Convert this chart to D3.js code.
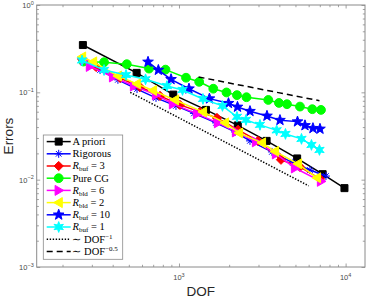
<!DOCTYPE html>
<html>
<head>
<meta charset="utf-8">
<script src="https://cdn.jsdelivr.net/npm/d3@7"></script>
<style>
body { margin: 0; background: #fff; }
svg { display: block; }
</style>
</head>
<body>
<div id="chart"></div>
<script>
// values (DOF, error)
var aprioriDof = [265, 557, 924, 1452, 2254, 3356, 5117, 7279, 9840];
var aprioriErr = [0.348, 0.167, 0.0942, 0.0629, 0.0418, 0.0278, 0.0175, 0.01156, 0.0080];

var rigorousDof = [262, 336, 430, 560, 728, 959, 1230, 1668, 2168, 2667, 3613, 4831, 6109, 7621];
var rigorousErr = [0.235, 0.180, 0.139, 0.109, 0.0863, 0.0699, 0.0574, 0.0447, 0.0352, 0.0278, 0.0208, 0.0156, 0.0129, 0.0110];

var rbuf3Dof = [262, 318, 443, 583, 769, 1014, 1336, 1690, 2261, 2979, 4093, 5321, 7016];
var rbuf3Err = [0.241, 0.195, 0.146, 0.115, 0.0910, 0.0718, 0.0597, 0.0509, 0.0372, 0.0278, 0.0169, 0.0140, 0.0102];

var pureCgDof = [267, 355, 486, 661, 830, 1102, 1322, 1606, 1928, 2228, 2541, 3435, 3981, 4446, 5321, 6310, 7113];
var pureCgErr = [0.225, 0.221, 0.210, 0.187, 0.182, 0.147, 0.132, 0.110, 0.0997, 0.0929, 0.0879, 0.0818, 0.0756, 0.0731, 0.0687, 0.0641, 0.0629];

var rbld6Dof = [269, 292, 402, 537, 728, 920, 1283, 1714, 2198, 2897, 3819, 4966, 7112];
var rbld6Err = [0.235, 0.198, 0.150, 0.118, 0.0934, 0.0737, 0.0566, 0.0447, 0.0352, 0.0271, 0.0197, 0.0136, 0.00957];

var rbld2Dof = [262, 305, 430, 560, 698, 946, 1393, 1888, 2291, 3148, 3767, 5176, 6730];
var rbld2Err = [0.254, 0.223, 0.154, 0.125, 0.105, 0.0818, 0.0597, 0.0447, 0.0343, 0.0264, 0.0211, 0.0152, 0.0105];

var rbuf10Dof = [652, 752, 896, 1148, 1523, 1982, 2244, 2667, 3373, 4036, 5142, 5702, 6368, 7016];
var rbuf10Err = [0.223, 0.180, 0.141, 0.110, 0.0847, 0.0750, 0.0680, 0.0608, 0.0537, 0.0480, 0.0462, 0.0418, 0.0388, 0.0381];

var rbuf1Dof = [262, 355, 481, 630, 847, 1050, 1393, 1824, 2228, 2524, 3062, 3855, 4355, 5433, 6237, 6966];
var rbuf1Err = [0.232, 0.180, 0.158, 0.141, 0.118, 0.1065, 0.0840, 0.0699, 0.0524, 0.0483, 0.0424, 0.0367, 0.0334, 0.0293, 0.0250, 0.0219];

// reference slopes
var dof1Dof = [510, 6000];
var dof1Err = [0.1, 0.0085];
var dofHalfDof = [1310, 6966];
var dofHalfErr = [0.150, 0.0802];

// ticks
var xMajorTicks = [1000, 10000];
var xMinorTicks = [200, 300, 400, 500, 600, 700, 800, 900, 2000, 3000, 4000, 5000, 6000, 7000, 8000, 9000];
var yMajorTicks = [0.001, 0.01, 0.1, 1];
var yMinorTicks = [];
[0.001, 0.01, 0.1].forEach(function (d) {
    for (var k = 2; k <= 9; k++) yMinorTicks.push(d * k);
});

// legend labels: [text, style] parts
var legendLabels = [
    [["A priori", ""]],
    [["Rigorous", ""]],
    [["R", "i"], ["buf", "sub"], [" = 3", ""]],
    [["Pure CG", ""]],
    [["R", "i"], ["bld", "sub"], [" = 6", ""]],
    [["R", "i"], ["bld", "sub"], [" = 2", ""]],
    [["R", "i"], ["buf", "sub"], [" = 10", ""]],
    [["R", "i"], ["buf", "sub"], [" = 1", ""]],
    [["\u223C DOF", ""], ["\u22121", "sup"]],
    [["\u223C DOF", ""], ["\u22120.5", "sup"]]
];

var svgWidth = 371;
var svgHeight = 300;
var margin = { top: 5, right: 6, bottom: 33, left: 36.7 };
var width = svgWidth - margin.left - margin.right;
var height = svgHeight - margin.top - margin.bottom;

var svg = d3.select("#chart")
    .append("svg")
    .attr("width", svgWidth)
    .attr("height", svgHeight);

var chartGroup = svg.append("g")
    .attr("transform", `translate(${margin.left}, ${margin.top})`);

var x = d3.scaleLog().domain([140, 13070]).range([0, width]);
var y = d3.scaleLog().domain([0.001, 1]).range([height, 0]);

function starPath(n, rOut, rIn) {
    var p = [];
    for (var i = 0; i < 2 * n; i++) {
        var r = i % 2 ? rIn : rOut;
        var a = Math.PI * i / n - Math.PI / 2;
        p.push([(r * Math.cos(a)).toFixed(2), (r * Math.sin(a)).toFixed(2)]);
    }
    return "M" + p.join("L") + "Z";
}

var markers = {
    square: "M-3.5,-3.5L3.5,-3.5L3.5,3.5L-3.5,3.5Z",
    asterisk: "M0,-4L0,4M-4,0L4,0M-2.8,-2.8L2.8,2.8M-2.8,2.8L2.8,-2.8",
    diamond: "M0,-4.6L4.6,0L0,4.6L-4.6,0Z",
    circle: d3.symbol().type(d3.symbolCircle).size(Math.PI * 4.4 * 4.4)(),
    right: "M5,0L-3.6,-5L-3.6,5Z",
    left: "M-5,0L3.6,-5L3.6,5Z",
    pentagram: starPath(5, 5.6, 2.3),
    hexagram: starPath(6, 5.4, 2.4)
};

var series = [
    { dof: aprioriDof, err: aprioriErr, color: "#000000", marker: "square" },
    { dof: rigorousDof, err: rigorousErr, color: "#0000ff", marker: "asterisk" },
    { dof: rbuf3Dof, err: rbuf3Err, color: "#ff0000", marker: "diamond" },
    { dof: pureCgDof, err: pureCgErr, color: "#00ff00", marker: "circle" },
    { dof: rbld6Dof, err: rbld6Err, color: "#ff00ff", marker: "right" },
    { dof: rbld2Dof, err: rbld2Err, color: "#ffff00", marker: "left" },
    { dof: rbuf10Dof, err: rbuf10Err, color: "#0000ff", marker: "pentagram" },
    { dof: rbuf1Dof, err: rbuf1Err, color: "#00ffff", marker: "hexagram" },
    { dof: dof1Dof, err: dof1Err, color: "#000000", dash: "1.4,1.6" },
    { dof: dofHalfDof, err: dofHalfErr, color: "#000000", dash: "6,4" }
];

var line = d3.line()
    .x(d => x(d[0]))
    .y(d => y(d[1]));

function drawMarker(sel, s) {
    var filled = s.marker !== "asterisk";
    sel.append("path")
        .attr("d", markers[s.marker])
        .attr("fill", filled ? s.color : "none")
        .attr("stroke", s.color)
        .attr("stroke-width", 1)
        .attr("stroke-linejoin", "round");
}

// lines and markers
series.forEach(function (s) {
    var pts = s.dof.map((d, i) => [d, s.err[i]]);
    chartGroup.append("path")
        .datum(pts)
        .attr("d", line)
        .attr("fill", "none")
        .attr("stroke", s.color)
        .attr("stroke-width", 1.5)
        .attr("stroke-dasharray", s.dash || null);

    if (s.marker) {
        chartGroup.selectAll(null)
            .data(pts)
            .enter()
            .append("g")
            .attr("transform", d => `translate(${x(d[0])}, ${y(d[1])})`)
            .each(function () { drawMarker(d3.select(this), s); });
    }
});

// axes box and inward ticks
var axisColor = "#8a8a8a";
function tickAxis(axisFn, scale, values, len, transform) {
    var g = chartGroup.append("g")
        .attr("transform", transform)
        .call(axisFn(scale).tickValues(values).tickSizeInner(-len).tickSizeOuter(0).tickFormat(""));
    g.select(".domain").remove();
    g.selectAll("line").attr("stroke", axisColor).attr("stroke-width", 0.8);
}
tickAxis(d3.axisBottom, x, xMajorTicks, 3.5, `translate(0, ${height})`);
tickAxis(d3.axisBottom, x, xMinorTicks, 2.2, `translate(0, ${height})`);
tickAxis(d3.axisTop, x, xMajorTicks, 3.5, "translate(0, 0)");
tickAxis(d3.axisTop, x, xMinorTicks, 2.2, "translate(0, 0)");
tickAxis(d3.axisLeft, y, yMajorTicks, 3.5, "translate(0, 0)");
tickAxis(d3.axisLeft, y, yMinorTicks, 2.2, "translate(0, 0)");
tickAxis(d3.axisRight, y, yMajorTicks, 3.5, `translate(${width}, 0)`);
tickAxis(d3.axisRight, y, yMinorTicks, 2.2, `translate(${width}, 0)`);

chartGroup.append("rect")
    .attr("width", width)
    .attr("height", height)
    .attr("fill", "none")
    .attr("stroke", axisColor)
    .attr("stroke-width", 1);

// tick labels
var tickFont = "'Liberation Sans', Arial, sans-serif";
function powerLabel(sel, v) {
    var e = Math.round(Math.log10(v));
    sel.append("tspan").text("10");
    sel.append("tspan")
        .attr("dy", -3.5)
        .attr("font-size", 5.5)
        .text(e < 0 ? "\u2212" + (-e) : e);
}

xMajorTicks.forEach(function (v) {
    var t = chartGroup.append("text")
        .attr("x", x(v))
        .attr("y", height + 13)
        .attr("text-anchor", "middle")
        .attr("font-family", tickFont)
        .attr("font-size", 7.5)
        .attr("fill", "#4a4a4a");
    powerLabel(t, v);
});

yMajorTicks.forEach(function (v) {
    var t = chartGroup.append("text")
        .attr("x", -3)
        .attr("y", y(v) + 3)
        .attr("text-anchor", "end")
        .attr("font-family", tickFont)
        .attr("font-size", 7.5)
        .attr("fill", "#4a4a4a");
    powerLabel(t, v);
});

// axis titles
chartGroup.append("text")
    .attr("x", width / 2)
    .attr("y", height + 29)
    .attr("text-anchor", "middle")
    .attr("font-family", tickFont)
    .attr("font-size", 13.5)
    .attr("fill", "#262626")
    .text("DOF");

chartGroup.append("text")
    .attr("transform", "rotate(-90)")
    .attr("x", -height / 2)
    .attr("y", -24)
    .attr("text-anchor", "middle")
    .attr("font-family", tickFont)
    .attr("font-size", 13.5)
    .attr("fill", "#262626")
    .text("Errors");

// legend
var legendGroup = svg.append("g")
    .attr("transform", "translate(43.3, 135)");

legendGroup.append("rect")
    .attr("width", 79.4)
    .attr("height", 124.3)
    .attr("fill", "#ffffff")
    .attr("stroke", axisColor)
    .attr("stroke-width", 0.8);

var rowH = 12.2;
series.forEach(function (s, i) {
    var row = legendGroup.append("g")
        .attr("transform", `translate(0, ${6.6 + i * rowH})`);

    row.append("line")
        .attr("x1", 3.4)
        .attr("x2", 27.4)
        .attr("stroke", s.color)
        .attr("stroke-width", 1.5)
        .attr("stroke-dasharray", s.dash || null);

    if (s.marker) {
        var m = row.append("g").attr("transform", "translate(15.4, 0)");
        drawMarker(m, s);
    }

    var t = row.append("text")
        .attr("x", 29.2)
        .attr("y", 3.4)
        .attr("font-family", "'Liberation Serif', 'Times New Roman', serif")
        .attr("font-size", 10.5)
        .attr("fill", "#000");

    var shift = 0;
    legendLabels[i].forEach(function (part) {
        var ts = t.append("tspan").text(part[0]);
        if (part[1] === "i") {
            ts.attr("font-style", "italic");
        } else if (part[1] === "sub") {
            ts.attr("font-size", 7).attr("dy", 2 - shift);
            shift = 2;
        } else if (part[1] === "sup") {
            ts.attr("font-size", 7).attr("dy", -4 - shift);
            shift = -4;
        } else if (shift !== 0) {
            ts.attr("dy", -shift);
            shift = 0;
        }
    });
});
</script>
</body>
</html>
